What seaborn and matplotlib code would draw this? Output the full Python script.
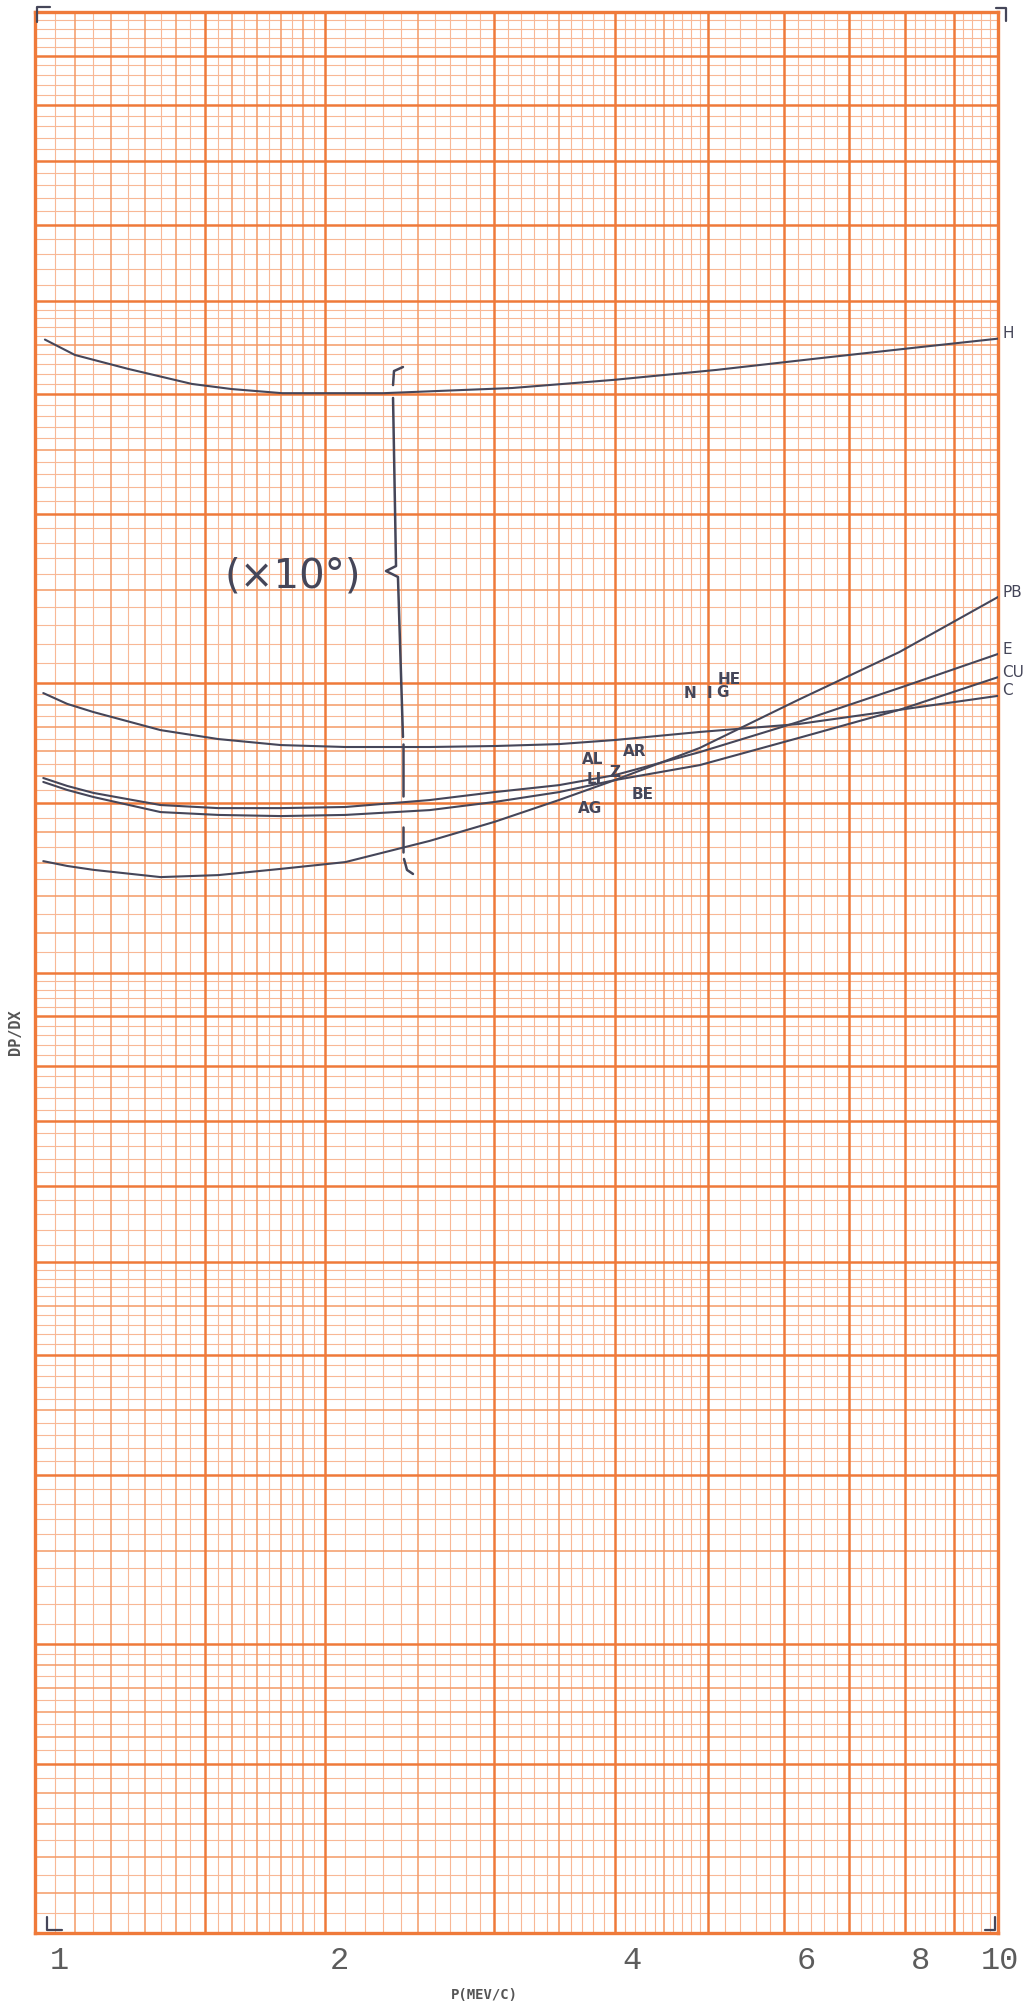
import seaborn as sns
import matplotlib.pyplot as plt
import numpy as np
from matplotlib.ticker import NullLocator
from matplotlib.transforms import ScaledTranslation

sns.set_style("white")

# momentum P (MEV/C) and DP/DX
p_h = [1.024, 1.1, 1.25, 1.455, 1.6, 1.806, 2.3, 3.13, 3.99, 5.10, 6.52, 8.33, 10.0]
h = [45.6, 43.95, 42.5, 41.0, 40.5, 40.1, 40.1, 40.6, 41.4, 42.4, 43.6, 44.8, 45.7]

p_low = [1.02, 1.08, 1.15, 1.35, 1.55, 1.8, 2.1, 2.57, 3.0, 3.5, 4.0, 4.9, 6.2, 7.9, 10.0]
c = [19.54, 19.04, 18.67, 17.88, 17.50, 17.25, 17.17, 17.17, 17.21, 17.29, 17.46, 17.80, 18.14, 18.77, 19.41]
e = [15.94, 15.64, 15.38, 14.94, 14.83, 14.83, 14.87, 15.12, 15.41, 15.67, 16.05, 16.96, 18.23, 19.78, 21.46]
cu = [15.79, 15.49, 15.23, 14.69, 14.59, 14.55, 14.59, 14.76, 15.05, 15.41, 15.86, 16.44, 17.54, 18.77, 20.30]
pb = [13.06, 12.91, 12.79, 12.57, 12.63, 12.82, 13.03, 13.71, 14.35, 15.12, 15.86, 17.13, 19.22, 21.56, 24.60]

curve_names = ["H", "PB", "E", "CU", "C"]
x_ticks = [1, 2, 4, 6, 8, 10]
x_tick_labels = ["1", "2", "4", "6", "8", "10"]
tick_shift_px = [24, 14, 17, 22, 16, 2]

# labels written near P=4 (axes fraction positions)
mid_labels = ["AL", "AR", "LI", "BE", "AG", "N", "I", "G", "HE", "Z"]
mid_pos = [(0.5794, 0.6111), (0.6231, 0.6153), (0.5805, 0.6007), (0.6314, 0.5929),
           (0.5763, 0.5856), (0.6802, 0.6450), (0.6999, 0.6450), (0.7134, 0.6460),
           (0.7207, 0.6523), (0.6023, 0.6039)]

INK = "#454659"
THIN = "#f8b896"
MED = "#f49a66"
THICK = "#ef7a3a"

fig = plt.figure(figsize=(10.23, 20.07), dpi=100)
ax = fig.add_axes([0.03421, 0.03687, 0.94135, 0.95715])
ax.set_xscale("log")
ax.set_yscale("log")
ax.set_xlim(1, 10)
ax.set_ylim(1, 100)

# log-log graph paper
def paper_lines(decades):
    out = []
    for d in decades:
        for m in np.arange(1, 2, 0.05):
            w = 2 if (abs(m - 1) < 1e-6 or abs(m - 1.5) < 1e-6) else (1 if abs(m * 10 - round(m * 10)) < 1e-6 else 0)
            out.append((d * m, w))
        for m in np.arange(2, 5, 0.1):
            w = 2 if abs(m - round(m)) < 1e-6 else (1 if abs(m * 2 - round(m * 2)) < 1e-6 else 0)
            out.append((d * m, w))
        for m in np.arange(5, 10, 0.2):
            w = 2 if abs(m - round(m)) < 1e-6 else 0
            out.append((d * m, w))
    return out

styles = {0: (THIN, 0.8), 1: (MED, 1.1), 2: (THICK, 1.8)}
for w in (0, 1, 2):
    col, lw = styles[w]
    xs = [v for v, k in paper_lines([1]) if k == w]
    ys = [v for v, k in paper_lines([1, 10]) if k == w]
    ax.vlines(xs, 1, 100, colors=col, lw=lw, zorder=1)
    ax.hlines(ys, 1, 10, colors=col, lw=lw, zorder=1)

for s in ax.spines.values():
    s.set_color(THICK)
    s.set_linewidth(2.4)

# curves
series = [(p_h, h), (p_low, pb), (p_low, e), (p_low, cu), (p_low, c)]
for name, (px, py) in zip(curve_names, series):
    sns.lineplot(x=px, y=py, ax=ax, color=INK, lw=1.5, zorder=3)
    ax.annotate(name, xy=(px[-1], py[-1]), xytext=(3, 3.5), textcoords="offset points",
                va="center", ha="left", fontsize=11, color=INK, annotation_clip=False)

for lab, (fx, fy) in zip(mid_labels, mid_pos):
    ax.text(fx, fy, lab, transform=ax.transAxes, fontsize=11, color=INK,
            ha="center", va="center", fontweight="bold", zorder=4)

# scale note with brace
ax.text(0.2679, 0.7064, "(×10°)", transform=ax.transAxes, fontsize=29, color=INK,
        ha="center", va="center", zorder=4)
brace_parts = [
    [(0.3821, 0.8152), (0.3728, 0.8131), (0.3718, 0.8058)],
    [(0.3718, 0.7991), (0.3749, 0.7116), (0.3645, 0.7090), (0.3769, 0.7059), (0.3821, 0.6226)],
    [(0.3821, 0.6189), (0.3821, 0.5919)],
    [(0.3821, 0.5757), (0.3821, 0.5627)],
    [(0.3832, 0.5591), (0.3863, 0.5534), (0.3925, 0.5513)],
]
for part in brace_parts:
    bx, by = zip(*part)
    ax.plot(bx, by, transform=ax.transAxes, color=INK, lw=1.8, zorder=4)

# corner marks
corners = [
    [(0.0021, 0.9948), (0.0021, 1.0026), (0.0156, 1.0026)],
    [(0.9979, 1.0021), (1.0083, 1.0021), (1.0083, 0.9953)],
    [(0.0125, 0.0083), (0.0125, 0.0016), (0.0281, 0.0016)],
    [(0.9865, 0.0016), (0.9969, 0.0016), (0.9969, 0.0083)],
]
for part in corners:
    bx, by = zip(*part)
    ax.plot(bx, by, transform=ax.transAxes, color=INK, lw=1.6, clip_on=False, zorder=5)

# axes ticks and labels
ax.set_xticks(x_ticks)
ax.set_xticklabels(x_tick_labels)
ax.set_yticks([])
ax.xaxis.set_minor_locator(NullLocator())
ax.yaxis.set_minor_locator(NullLocator())
ax.tick_params(axis="x", length=0, pad=9, labelsize=23, labelcolor="#5c5c5c")
for lbl, dx in zip(ax.get_xticklabels(), tick_shift_px):
    lbl.set_fontfamily("Liberation Mono")
    lbl.set_transform(lbl.get_transform() + ScaledTranslation(dx / 100, 0, fig.dpi_scale_trans))
ax.set_xlabel("")
ax.set_ylabel("")

fig.text(0.473, 1 - 1995 / 2007, "P(MEV/C)", fontsize=10, family="DejaVu Sans Mono",
         fontweight="bold", color="#555555", ha="center", va="center")
fig.text(0.0147, 1 - 1032 / 2007, "DP/DX", fontsize=11, family="DejaVu Sans Mono",
         fontweight="bold", color="#555555", ha="center", va="center", rotation=90)

fig.savefig("out.png", dpi=100, facecolor="white")
